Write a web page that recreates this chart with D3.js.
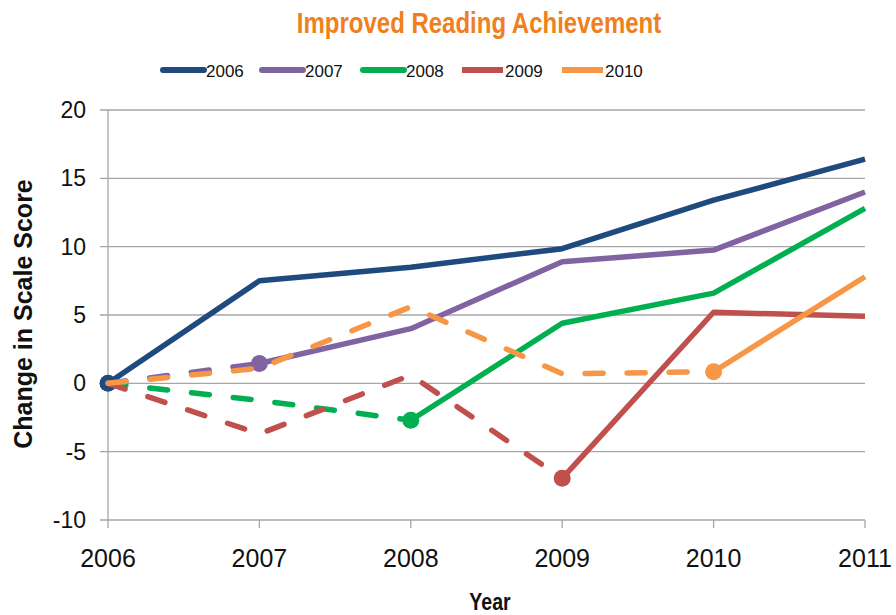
<!DOCTYPE html>
<html>
<head>
<meta charset="utf-8">
<script src="https://cdn.jsdelivr.net/npm/d3@7"></script>
<style>
  body { margin: 0; background: #fff; }
  svg { display: block; }
</style>
</head>
<body>
<script>
var years = [2006, 2007, 2008, 2009, 2010, 2011];
var cohorts = ["2006", "2007", "2008", "2009", "2010"];
var colors = ["#1f4a7e", "#8064a2", "#00b050", "#c0504d", "#f79646"];
// index of the year where the dashed part stops and the solid part begins
var startIdx = [0, 1, 2, 3, 4];
var values2006 = [0, 7.5, 8.5, 9.85, 13.4, 16.4];
var values2007 = [0, 1.45, 4.0, 8.9, 9.75, 14.0];
var values2008 = [0, -1.25, -2.7, 4.4, 6.6, 12.8];
var values2009 = [0, -3.7, 0.6, -6.95, 5.2, 4.9];
var values2010 = [0, 1.1, 5.6, 0.7, 0.85, 7.8];
var values = [values2006, values2007, values2008, values2009, values2010];
var yTicks = [-10, -5, 0, 5, 10, 15, 20];

var W = 896, H = 615;
var svg = d3.select("body").append("svg").attr("width", W).attr("height", H);

var x = d3.scaleLinear().domain([2006, 2011]).range([108, 865]);
var y = d3.scaleLinear().domain([-10, 20]).range([520, 110]);

// grid
svg.append("g").selectAll("line").data(yTicks).enter().append("line")
  .attr("x1", 100).attr("x2", 865)
  .attr("y1", function(d){ return y(d); }).attr("y2", function(d){ return y(d); })
  .attr("stroke", "#a6a6a6").attr("stroke-width", 1.3);

// y axis line
svg.append("line").attr("x1", 108).attr("x2", 108).attr("y1", 110).attr("y2", 520)
  .attr("stroke", "#a6a6a6").attr("stroke-width", 1.3);

// x ticks
svg.append("g").selectAll("line").data(years).enter().append("line")
  .attr("x1", function(d){ return x(d); }).attr("x2", function(d){ return x(d); })
  .attr("y1", 520).attr("y2", 528)
  .attr("stroke", "#a6a6a6").attr("stroke-width", 1.3);

// y tick labels
svg.append("g").selectAll("text").data(yTicks).enter().append("text")
  .attr("x", 86).attr("y", function(d){ return y(d) + 8; })
  .attr("text-anchor", "end")
  .style("font-family", "Liberation Sans, Arial, sans-serif").style("font-size", "23px")
  .attr("fill", "#111")
  .text(function(d){ return d; });

// x tick labels
svg.append("g").selectAll("text").data(years).enter().append("text")
  .attr("x", function(d){ return x(d); }).attr("y", 567)
  .attr("text-anchor", "middle")
  .style("font-family", "Liberation Sans, Arial, sans-serif").style("font-size", "25px")
  .attr("fill", "#111")
  .text(function(d){ return d; });

// axis titles
svg.append("text").attr("transform", "translate(490,610) scale(0.85,1)").attr("text-anchor", "middle")
  .style("font-family", "Liberation Sans, Arial, sans-serif").style("font-size", "23px")
  .style("font-weight", "bold").attr("fill", "#111").text("Year");
svg.append("text").attr("transform", "translate(32,314) rotate(-90)").attr("text-anchor", "middle")
  .style("font-family", "Liberation Sans, Arial, sans-serif").style("font-size", "25px")
  .style("font-weight", "bold").attr("fill", "#111").text("Change in Scale Score");

// title
svg.append("text").attr("transform", "translate(479,33) scale(0.8,1)").attr("text-anchor", "middle")
  .style("font-family", "Liberation Sans, Arial, sans-serif").style("font-size", "30px")
  .style("font-weight", "bold").attr("fill", "#f0801c").text("Improved Reading Achievement");

// series
var line = d3.line().x(function(d){ return x(d.year); }).y(function(d){ return y(d.v); });
cohorts.forEach(function(c, k){
  var pts = years.map(function(yr, i){ return { year: yr, v: values[k][i] }; });
  var dashed = pts.slice(0, startIdx[k] + 1);
  var solid = pts.slice(startIdx[k]);
  if (dashed.length > 1) {
    svg.append("path").datum(dashed).attr("d", line)
      .attr("fill", "none").attr("stroke", colors[k]).attr("stroke-width", 5.5)
      .attr("stroke-linecap", "round").attr("stroke-dasharray", "18,24");
  }
  svg.append("path").datum(solid).attr("d", line)
    .attr("fill", "none").attr("stroke", colors[k]).attr("stroke-width", 5.5)
    .attr("stroke-linejoin", "round");
  svg.append("circle").attr("cx", x(pts[startIdx[k]].year)).attr("cy", y(pts[startIdx[k]].v))
    .attr("r", 8.5).attr("fill", colors[k]);
});

// legend
var legX = [163, 262, 363, 462, 562];
var legend = svg.append("g").selectAll("g").data(cohorts).enter().append("g")
  .attr("transform", function(d, i){ return "translate(" + legX[i] + ",70)"; });
legend.append("line").attr("x1", 0).attr("x2", 41).attr("y1", 0).attr("y2", 0)
  .attr("stroke", function(d, i){ return colors[i]; }).attr("stroke-width", 6)
  .attr("stroke-linecap", function(d, i){ return i < 3 ? "round" : "butt"; });
legend.append("text").attr("x", 43).attr("y", 6.5)
  .style("font-family", "Liberation Sans, Arial, sans-serif").style("font-size", "17px")
  .attr("fill", "#111").text(function(d){ return d; });
</script>
</body>
</html>
